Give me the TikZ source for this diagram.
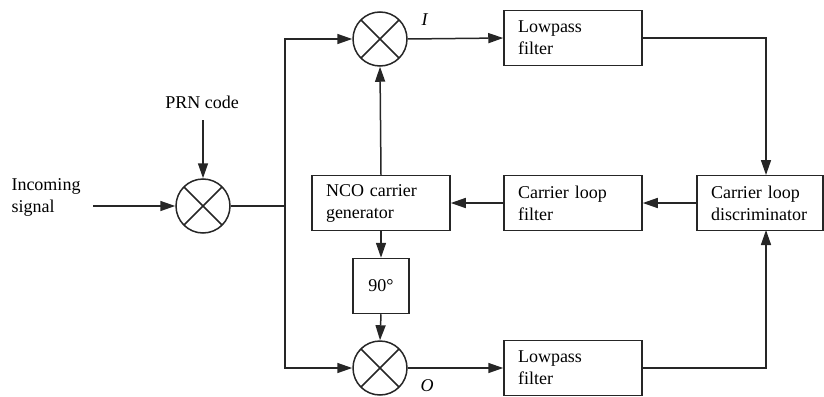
\documentclass[tikz,border=0pt]{standalone}
\usepackage{fontspec}
\setmainfont{Liberation Serif}
\usetikzlibrary{arrows.meta,calc}
\begin{document}
\begin{tikzpicture}[x=1pt,y=-1pt,
  font=\fontsize{18}{22}\selectfont,
  ln/.style={draw=black!85,line width=1.5pt},
  arr/.style={ln,-{Triangle[length=15pt,width=10pt]}},
  mixer/.style={circle,ln,minimum size=54pt,inner sep=0pt,
    path picture={\draw[ln] (path picture bounding box.center) +(45:30pt) -- +(225:30pt)
      (path picture bounding box.center) +(135:30pt) -- +(315:30pt);}},
  blk/.style={ln,minimum height=55pt,inner xsep=14pt,inner ysep=2pt,
    align=left,text width=#1},
  lbl/.style={inner sep=0pt}]
\useasboundingbox (0,0) rectangle (824,396);
% mixers
\node[mixer] (mx0) at (203,206) {};
\node[mixer] (mxI) at (380,39) {};
\node[mixer] (mxQ) at (380,368) {};
% blocks
\node[blk=110pt] (lp1) at (573,38) {Lowpass\\filter};
\node[blk=110pt] (lp2) at (573,368) {Lowpass\\filter};
\node[blk=110pt] (clf) at (573,203) {Carrier loop\\filter};
\node[blk=110pt] (nco) at (381,203) {NCO carrier\\generator};
\node[blk=98pt] (disc) at (760,203) {Carrier loop\\discriminator};
\node[ln,minimum width=56pt,minimum height=55pt] (ph) at (381,286) {90°};
% labels
\node[lbl,align=left] (inc) at (46,197) {Incoming\\signal};
\node[lbl] (prn) at (202,102) {PRN code};
\node[lbl] (labI) at (425,20) {\textit{I}};
\node[lbl] (labQ) at (427,386) {\textit{O}};
% coordinates
\coordinate (inS) at (93,206);
\coordinate (prnS) at (203,120);
\coordinate (split) at (285,206);
\coordinate (dtop) at (766,175);
\coordinate (dbot) at (766,230);
% connectors
\draw[arr] (inS) -- (mx0.west);
\draw[arr] (prnS) -- (mx0.north);
\draw[ln] (mx0.east) -- (split);
\draw[arr] (split) |- (mxI.west);
\draw[arr] (split) |- (mxQ.west);
\draw[arr] (mxI.east) -- (lp1.west);
\draw[arr] (mxQ.east) -- (lp2.west);
\draw[arr] (lp1.east) -| (dtop);
\draw[arr] (lp2.east) -| (dbot);
\draw[arr] (disc.west) -- (clf.east);
\draw[arr] (clf.west) -- (nco.east);
\draw[arr] (nco.north) -- (mxI.south);
\draw[arr] (nco.south) -- (ph.north);
\draw[arr] (ph.south) -- (mxQ.north);
\end{tikzpicture}
\end{document}
